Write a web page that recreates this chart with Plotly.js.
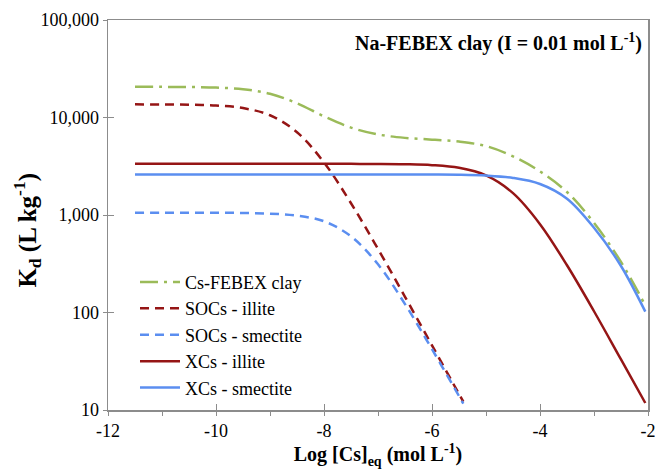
<!DOCTYPE html>
<html>
<head>
<meta charset="utf-8">
<script src="https://cdn.plot.ly/plotly-3.0.1.min.js"></script>
<style>
  html, body { margin: 0; padding: 0; background: #fff; }
  #chart { width: 657px; height: 470px; }
  #chart svg text { font-family: 'Liberation Serif', 'DejaVu Serif', 'Tinos', 'Times New Roman', 'Times', 'Nimbus Roman', 'FreeSerif', 'Noto Serif', serif !important; }
</style>
</head>
<body>
<div id="chart"></div>
<script>
// Log [Cs]eq values (mol L-1)
const logCs = [-11.5, -11, -10.5, -10, -9.5, -9, -8.5, -8, -7.5, -7, -6.5, -6, -5.5, -5, -4.5, -4, -3.5, -3, -2.5, -2.05];
const logCsSOC = [-11.5, -11, -10.5, -10, -9.5, -9, -8.5, -8, -7.5, -7, -6.5, -6, -5.5, -5.42];

// Kd values (L kg-1)
const kdFEBEX      = [20640, 20620, 20530, 20260, 19480, 17520, 14000, 10270, 7880, 6700, 6180, 5930, 5660, 5090, 4000, 2800, 1720, 830, 330, 118];
const kdXCsIllite  = [3350, 3350, 3350, 3350, 3350, 3350, 3350, 3350, 3345, 3340, 3317, 3247, 3045, 2545, 1675, 805, 305, 103, 33, 11.8];
const kdXCsSmect   = [2600, 2600, 2600, 2600, 2600, 2600, 2600, 2600, 2600, 2600, 2600, 2600, 2590, 2540, 2400, 2080, 1470, 740, 300, 102];
const kdSOCsIllite = [13640, 13610, 13520, 13260, 12490, 10540, 7060, 3460, 1320, 448, 145, 46, 14.6, 12.2];
const kdSOCsSmect  = [1057, 1057, 1056, 1054, 1049, 1032, 984, 862, 604, 312, 122, 42, 13.9, 11.6];

const seriesNames = ['Cs-FEBEX clay', 'SOCs - illite', 'SOCs - smectite', 'XCs - illite', 'XCs - smectite'];
const yTickVals = [10, 100, 1000, 10000, 100000];
const yTickText = ['10', '100', '1,000', '10,000', '100,000'];
const xTickVals = [-12, -10, -8, -6, -4, -2];
const xTickText = ['-12', '-10', '-8', '-6', '-4', '-2'];

const GREEN = '#9BBB59';
const RED = '#951515';
const BLUE = '#5B8EF0';
const AXIS = '#8c8c8c';
const FONT = 'Liberation Serif';

const traces = [
  { x: logCs, y: kdFEBEX, name: seriesNames[0], mode: 'lines',
    line: { color: GREEN, width: 2.5, dash: '18px,6px,3px,6px', shape: 'spline' } },
  { x: logCsSOC, y: kdSOCsIllite, name: seriesNames[1], mode: 'lines',
    line: { color: RED, width: 2.5, dash: '9px,6px', shape: 'spline' } },
  { x: logCsSOC, y: kdSOCsSmect, name: seriesNames[2], mode: 'lines',
    line: { color: BLUE, width: 2.5, dash: '9px,6px', shape: 'spline' } },
  { x: logCs, y: kdXCsIllite, name: seriesNames[3], mode: 'lines',
    line: { color: RED, width: 2.5, shape: 'spline' } },
  { x: logCs, y: kdXCsSmect, name: seriesNames[4], mode: 'lines',
    line: { color: BLUE, width: 2.5, shape: 'spline' } },
  // empty trace to host the inner tick axes
  { x: [], y: [], xaxis: 'x2', yaxis: 'y2', showlegend: false, hoverinfo: 'skip' }
];

const layout = {
  width: 657, height: 470,
  margin: { l: 108, r: 9, t: 20, b: 60 },
  paper_bgcolor: '#fff', plot_bgcolor: '#fff',
  font: { family: FONT, size: 18, color: '#000' },
  showlegend: true,
  legend: {
    x: 0.05, y: 0.375, xanchor: 'left', yanchor: 'top',
    bgcolor: 'rgba(0,0,0,0)', borderwidth: 0,
    font: { family: FONT, size: 18, color: '#000' },
    itemwidth: 40, tracegroupgap: 0
  },
  xaxis: {
    type: 'linear', range: [-12, -2], tickvals: xTickVals, ticktext: xTickText,
    ticks: 'outside', ticklen: 4, tickwidth: 1, tickcolor: AXIS,
    ticklabeloverflow: 'allow',
    minor: { dtick: 1, ticks: 'outside', ticklen: 4, tickcolor: AXIS, showgrid: false },
    showline: true, linecolor: AXIS, linewidth: 1.5, mirror: true,
    showgrid: false, zeroline: false,
    tickfont: { family: FONT, size: 18, color: '#000' },
    title: { text: '<b>Log [Cs]<sub>eq</sub> (mol L<sup>-1</sup>)</b>', font: { family: FONT, size: 20, color: '#000' }, standoff: 4 }
  },
  yaxis: {
    type: 'log', range: [1, 5], tickvals: yTickVals, ticktext: yTickText,
    ticks: 'outside', ticklen: 4, tickwidth: 1, tickcolor: AXIS,
    showline: true, linecolor: AXIS, linewidth: 1.5, mirror: true,
    showgrid: false, zeroline: false,
    tickfont: { family: FONT, size: 18, color: '#000' }
  },
  xaxis2: {
    overlaying: 'x', anchor: 'y2', range: [-12, -2], tickvals: xTickVals,
    ticks: 'inside', ticklen: 6, tickwidth: 1, tickcolor: AXIS,
    showticklabels: false, showline: false, showgrid: false, zeroline: false
  },
  yaxis2: {
    overlaying: 'y', anchor: 'x2', type: 'log', range: [1, 5], tickvals: yTickVals,
    ticks: 'inside', ticklen: 6, tickwidth: 1, tickcolor: AXIS,
    showticklabels: false, showline: false, showgrid: false, zeroline: false
  },
  annotations: [
    {
      xref: 'paper', yref: 'paper', x: 1, y: 1, xanchor: 'right', yanchor: 'top',
      xshift: -4, yshift: -8, showarrow: false,
      text: '<b>Na-FEBEX clay (I = 0.01 mol L<sup>-1</sup>)</b>',
      font: { family: FONT, size: 20, color: '#000' }
    },
    {
      xref: 'paper', yref: 'paper', x: -0.15, y: 0.46, xanchor: 'center', yanchor: 'middle',
      textangle: -90, showarrow: false,
      text: '<b>K<sub>d</sub> (L kg<sup>-1</sup>)</b>',
      font: { family: FONT, size: 25, color: '#000' }
    }
  ]
};

Plotly.newPlot('chart', traces, layout, { displayModeBar: false, staticPlot: true });
</script>
</body>
</html>
